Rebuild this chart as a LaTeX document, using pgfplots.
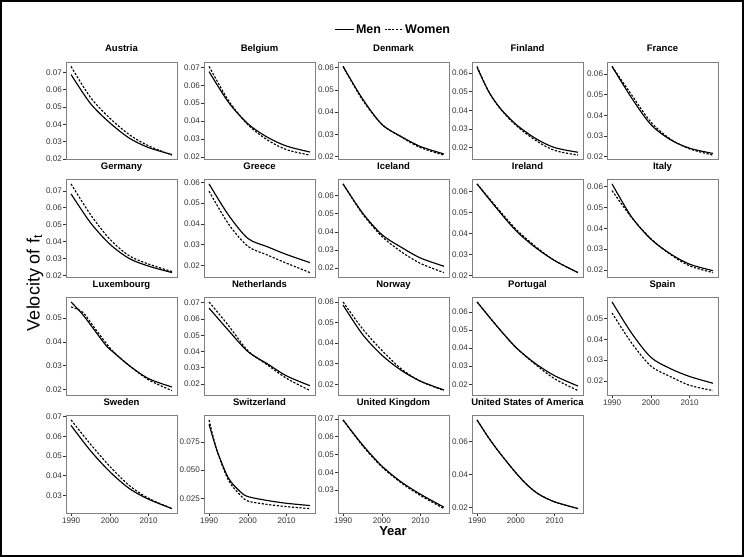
\documentclass[border=0pt]{standalone}
\usepackage{fontspec}
\setmainfont{Liberation Sans}
\usepackage{pgfplots}
\pgfplotsset{compat=1.18}
\pgfplotsset{
 panel/.style={scale only axis, width=111pt, height=97.5pt, anchor=south west,
  xmin=1988.7, xmax=2017.3, enlarge y limits=0.05,
  axis line style={black!50, line width=0.8pt},
  tick style={black!80, line width=0.6pt},
  tick align=outside, major tick length=2.8pt, tick pos=left,
  xtick=\empty, scaled y ticks=false, scaled x ticks=false,
  ticklabel style={font=\fontsize{8.1}{9}\selectfont, text=black!80},
  /pgf/number format/assume math mode=true,
  yticklabel style={/pgf/number format/fixed, /pgf/number format/fixed zerofill, /pgf/number format/precision=2, inner sep=1pt},
  xticklabel style={/pgf/number format/set thousands separator={}, inner sep=1.5pt},
  title style={font=\bfseries\fontsize{9.5}{11}\selectfont, anchor=base, yshift=4pt, inner sep=0pt},
 },
 xlab/.style={xtick={1990,2000,2010}},
 men/.style={black, line width=1.15pt, smooth, tension=0.5, no markers},
 women/.style={black, line width=1.15pt, dash pattern=on 2.2pt off 1.6pt, smooth, tension=0.5, no markers},
}
\begin{document}
\begin{tikzpicture}
\useasboundingbox (0pt,0pt) rectangle (744pt,557pt);
\draw[line width=2pt] (1pt,1pt) rectangle (743pt,556pt);

% ---------- Row 1 ----------
\begin{axis}[panel, at={(66pt,397.5pt)}, title={Austria}, ytick={0.02,0.03,0.04,0.05,0.06,0.07}]
\addplot[men] coordinates {(1990,0.0687) (1995,0.0520) (2000,0.0408) (2005,0.0320) (2010,0.0265) (2016,0.0225)};
\addplot[women] coordinates {(1990,0.0734) (1995,0.0555) (2000,0.0435) (2005,0.0340) (2010,0.0275) (2016,0.0222)};
\end{axis}
\begin{axis}[panel, at={(204pt,397.5pt)}, title={Belgium}, ytick={0.02,0.03,0.04,0.05,0.06,0.07}]
\addplot[men] coordinates {(1990,0.0676) (1995,0.0505) (2000,0.0385) (2005,0.0310) (2010,0.0260) (2016,0.0227)};
\addplot[women] coordinates {(1990,0.0705) (1995,0.0515) (2000,0.0380) (2005,0.0295) (2010,0.0240) (2016,0.0210)};
\end{axis}
\begin{axis}[panel, at={(338pt,397.5pt)}, title={Denmark}, ytick={0.02,0.03,0.04,0.05,0.06}]
\addplot[men] coordinates {(1990,0.0605) (1995,0.0460) (2000,0.0345) (2005,0.0290) (2010,0.0245) (2016,0.0212)};
\addplot[women] coordinates {(1990,0.0605) (1995,0.0455) (2000,0.0345) (2005,0.0288) (2010,0.0240) (2016,0.0207)};
\end{axis}
\begin{axis}[panel, at={(472pt,397.5pt)}, title={Finland}, ytick={0.02,0.03,0.04,0.05,0.06}]
\addplot[men] coordinates {(1990,0.0630) (1993,0.0500) (1996,0.0410) (2000,0.0325) (2005,0.0250) (2010,0.0200) (2016,0.0175)};
\addplot[women] coordinates {(1990,0.0635) (1993,0.0500) (1996,0.0408) (2000,0.0320) (2005,0.0240) (2010,0.0185) (2016,0.0160)};
\end{axis}
\begin{axis}[panel, at={(607pt,397.5pt)}, title={France}, ytick={0.02,0.03,0.04,0.05,0.06}]
\addplot[men] coordinates {(1990,0.0637) (1995,0.0485) (2000,0.0355) (2005,0.0282) (2010,0.0240) (2016,0.0215)};
\addplot[women] coordinates {(1990,0.0637) (1995,0.0500) (2000,0.0367) (2005,0.0285) (2010,0.0237) (2016,0.0207)};
\end{axis}

% ---------- Row 2 ----------
\begin{axis}[panel, at={(66pt,280pt)}, title={Germany}, ytick={0.02,0.03,0.04,0.05,0.06,0.07}]
\addplot[men] coordinates {(1990,0.0682) (1995,0.0512) (2000,0.0385) (2005,0.0300) (2010,0.0255) (2016,0.0217)};
\addplot[women] coordinates {(1990,0.0741) (1995,0.0560) (2000,0.0414) (2005,0.0316) (2010,0.0267) (2016,0.0223)};
\end{axis}
\begin{axis}[panel, at={(204pt,280pt)}, title={Greece}, ytick={0.02,0.03,0.04,0.05,0.06}]
\addplot[men] coordinates {(1990,0.0593) (1995,0.0443) (2000,0.0330) (2005,0.0290) (2010,0.0252) (2016,0.0213)};
\addplot[women] coordinates {(1990,0.0558) (1995,0.0400) (2000,0.0292) (2005,0.0250) (2010,0.0210) (2016,0.0165)};
\end{axis}
\begin{axis}[panel, at={(338pt,280pt)}, title={Iceland}, ytick={0.02,0.03,0.04,0.05,0.06}]
\addplot[men] coordinates {(1990,0.0665) (1995,0.0505) (2000,0.0385) (2005,0.0315) (2010,0.0255) (2016,0.0210)};
\addplot[women] coordinates {(1990,0.0665) (1995,0.0500) (2000,0.0375) (2005,0.0290) (2010,0.0225) (2016,0.0175)};
\end{axis}
\begin{axis}[panel, at={(472pt,280pt)}, title={Ireland}, ytick={0.02,0.03,0.04,0.05,0.06}]
\addplot[men] coordinates {(1990,0.0635) (1995,0.0520) (2000,0.0413) (2005,0.0333) (2010,0.0270) (2016,0.0213)};
\addplot[women] coordinates {(1990,0.0635) (1995,0.0525) (2000,0.0420) (2005,0.0338) (2010,0.0270) (2016,0.0213)};
\end{axis}
\begin{axis}[panel, at={(607pt,280pt)}, title={Italy}, ytick={0.02,0.03,0.04,0.05,0.06}]
\addplot[men] coordinates {(1990,0.0612) (1995,0.0455) (2000,0.0348) (2005,0.0278) (2010,0.0228) (2016,0.0197)};
\addplot[women] coordinates {(1990,0.0580) (1995,0.0452) (2000,0.0350) (2005,0.0275) (2010,0.0220) (2016,0.0188)};
\end{axis}

% ---------- Row 3 ----------
\begin{axis}[panel, at={(66pt,162pt)}, title={Luxembourg}, ytick={0.02,0.03,0.04,0.05}]
\addplot[men] coordinates {(1990,0.0568) (1993,0.0515) (1996,0.0450) (1999,0.0385) (2001,0.0355) (2005,0.0300) (2010,0.0245) (2016,0.0210)};
\addplot[women] coordinates {(1990,0.0547) (1993,0.0525) (1996,0.0460) (1999,0.0395) (2001,0.0357) (2005,0.0300) (2010,0.0240) (2016,0.0195)};
\end{axis}
\begin{axis}[panel, at={(204pt,162pt)}, title={Netherlands}, ytick={0.02,0.03,0.04,0.05,0.06,0.07}]
\addplot[men] coordinates {(1990,0.0667) (1995,0.0530) (2000,0.0400) (2005,0.0325) (2010,0.0250) (2016,0.0190)};
\addplot[women] coordinates {(1990,0.0705) (1995,0.0560) (2000,0.0405) (2005,0.0318) (2010,0.0235) (2016,0.0160)};
\end{axis}
\begin{axis}[panel, at={(338pt,162pt)}, title={Norway}, ytick={0.02,0.03,0.04,0.05,0.06}]
\addplot[men] coordinates {(1990,0.0585) (1995,0.0443) (2000,0.0342) (2005,0.0268) (2010,0.0215) (2016,0.0173)};
\addplot[women] coordinates {(1990,0.0600) (1995,0.0470) (2000,0.0365) (2005,0.0275) (2010,0.0215) (2016,0.0170)};
\end{axis}
\begin{axis}[panel, at={(472pt,162pt)}, title={Portugal}, ytick={0.02,0.03,0.04,0.05,0.06}]
\addplot[men] coordinates {(1990,0.0655) (1995,0.0524) (2000,0.0404) (2005,0.0315) (2010,0.0247) (2016,0.0190)};
\addplot[women] coordinates {(1990,0.0655) (1995,0.0524) (2000,0.0404) (2005,0.0310) (2010,0.0230) (2016,0.0165)};
\end{axis}
\begin{axis}[panel, xlab, at={(607pt,162pt)}, title={Spain}, ytick={0.02,0.03,0.04,0.05,0.06}]
\addplot[men] coordinates {(1990,0.0578) (1995,0.0430) (2000,0.0314) (2005,0.0260) (2010,0.0222) (2016,0.0190)};
\addplot[women] coordinates {(1990,0.0525) (1995,0.0383) (2000,0.0272) (2005,0.0222) (2010,0.0180) (2016,0.0155)};
\end{axis}

% ---------- Row 4 ----------
\begin{axis}[panel, xlab, at={(66pt,44pt)}, title={Sweden}, ytick={0.03,0.04,0.05,0.06,0.07}]
\addplot[men] coordinates {(1990,0.0655) (1995,0.0527) (2000,0.0420) (2005,0.0335) (2010,0.0280) (2016,0.0233)};
\addplot[women] coordinates {(1990,0.0683) (1995,0.0560) (2000,0.0447) (2005,0.0350) (2010,0.0285) (2016,0.0233)};
\end{axis}
\begin{axis}[panel, xlab, at={(204pt,44pt)}, title={Switzerland}, ytick={0.025,0.050,0.075},
  yticklabel style={/pgf/number format/precision=3}]
\addplot[men] coordinates {(1990,0.0910) (1992,0.0680) (1995,0.0430) (1998,0.0310) (2000,0.0265) (2005,0.0230) (2010,0.0205) (2016,0.0185)};
\addplot[women] coordinates {(1990,0.0948) (1992,0.0680) (1995,0.0410) (1998,0.0280) (2000,0.0225) (2005,0.0195) (2010,0.0175) (2016,0.0158)};
\end{axis}
\begin{axis}[panel, xlab, at={(338pt,44pt)}, title={United Kingdom}, ytick={0.03,0.04,0.05,0.06,0.07}]
\addplot[men] coordinates {(1990,0.0695) (1995,0.0555) (2000,0.0435) (2005,0.0345) (2010,0.0275) (2016,0.0203)};
\addplot[women] coordinates {(1990,0.0695) (1995,0.0550) (2000,0.0430) (2005,0.0340) (2010,0.0268) (2016,0.0195)};
\end{axis}
\begin{axis}[panel, xlab, at={(472pt,44pt)}, title={United States of America}, ytick={0.02,0.04,0.06}]
\addplot[men] coordinates {(1990,0.0728) (1993,0.0620) (1996,0.0525) (2000,0.0410) (2003,0.0335) (2006,0.0280) (2010,0.0235) (2016,0.0195)};
\addplot[women] coordinates {(1990,0.0728) (1993,0.0620) (1996,0.0525) (2000,0.0410) (2003,0.0335) (2006,0.0280) (2010,0.0235) (2016,0.0195)};
\end{axis}

% ---------- Legend ----------
\begin{axis}[hide axis, scale only axis, width=10pt, height=10pt, anchor=center, at={(393pt,527.5pt)},
  xmin=0, xmax=1, ymin=0, ymax=1,
  legend columns=2,
  legend style={at={(0.5,0.5)}, anchor=center, draw=none, fill=none,
    font=\bfseries\fontsize{12.5}{14}\selectfont, inner sep=0pt,
    /tikz/every even column/.append style={column sep=2pt},
    nodes={inner sep=1pt}},
  legend image code/.code={\draw[#1] (0pt,0pt) -- (19pt,0pt);}]
\addlegendimage{black, line width=1.15pt}
\addlegendentry{Men}
\addlegendimage{black, line width=1.15pt, dash pattern=on 2.2pt off 1.6pt}
\addlegendentry{Women}
\end{axis}

% ---------- Axis titles ----------
\node[rotate=90, font=\fontsize{18}{20}\selectfont] at (35pt,274pt) {Velocity of f\textsubscript{t}};
\node[font=\bfseries\fontsize{13}{15}\selectfont, anchor=base] at (393pt,21.5pt) {Year};
\end{tikzpicture}
\end{document}
